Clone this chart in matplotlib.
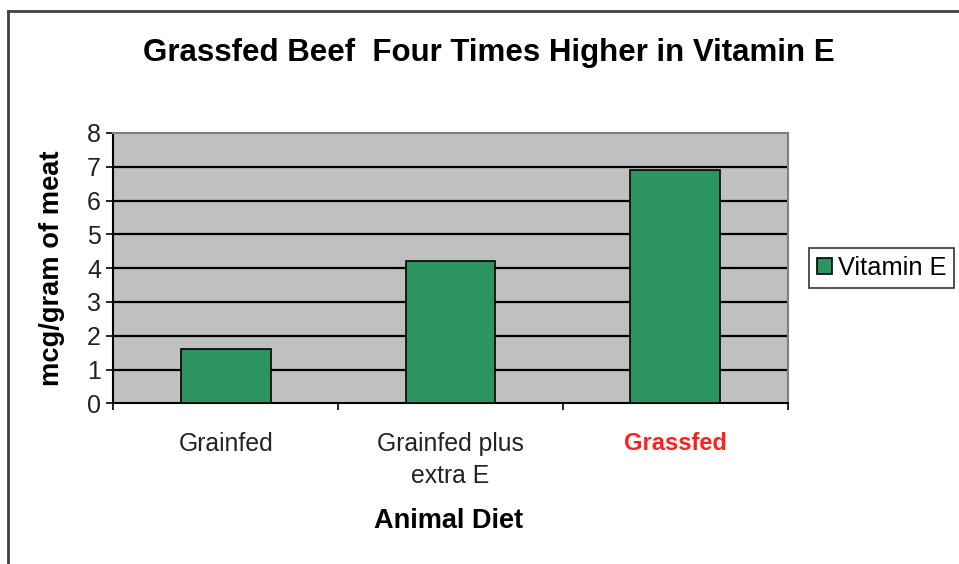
import matplotlib
matplotlib.use("Agg")
import matplotlib.pyplot as plt
from matplotlib.lines import Line2D

diets = ["Grainfed", "Grainfed plus\nextra E", "Grassfed"]
vitamin_e = [1.6, 4.2, 6.9]
yticks = [0, 1, 2, 3, 4, 5, 6, 7, 8]

W, H = 959, 564
plt.rcParams['font.family'] = ['Liberation Sans', 'DejaVu Sans']

fig = plt.figure(figsize=(W / 100, H / 100), dpi=100)
ax = fig.add_axes([113.4 / W, 1 - 403.3 / H, (787.6 - 113.4) / W, (403.3 - 133) / H])
ax.set_facecolor('#c0c0c0')

pos = [i + 0.5 for i in range(len(diets))]
ax.bar(pos, vitamin_e, width=0.4, color='#2b9461', edgecolor='black', linewidth=1.2,
       label='Vitamin E', zorder=3)

ax.set_xlim(0, 3)
ax.set_ylim(0, 8)
ax.set_yticks(yticks)
ax.set_yticklabels([str(v) for v in yticks])
for v in yticks[1:-1]:
    ax.axhline(v, color='black', lw=1.6, zorder=1)

ax.set_xticks([0, 1, 2, 3])
ax.set_xticklabels([])
ax.set_xticks(pos, minor=True)
ax.set_xticklabels(diets, minor=True, fontsize=17.8, color='#222222', linespacing=1.4)
ax.tick_params(axis='x', which='minor', length=0, pad=21)
ax.tick_params(axis='x', which='major', direction='out', length=5, width=1.2)
ax.tick_params(axis='y', direction='out', length=5, width=1.2, labelsize=18, pad=4,
               labelcolor='#222222')
lab = ax.get_xticklabels(minor=True)[2]
lab.set_color('#ff2020')
lab.set_fontweight('bold')
lab.set_fontsize(17)

for s in ['top', 'right']:
    ax.spines[s].set_color('#808080')
    ax.spines[s].set_linewidth(1.5)
for s in ['left', 'bottom']:
    ax.spines[s].set_color('black')
    ax.spines[s].set_linewidth(1.5)

fig.text(489 / W, 1 - 53 / H, 'Grassfed Beef  Four Times Higher in Vitamin E',
         ha='center', va='center', fontsize=22.5, fontweight='bold')
fig.text(52 / W, 1 - 268 / H, 'mcg/gram of meat', rotation=90, ha='center', va='center',
         fontsize=19.6, fontweight='bold')
fig.text(449 / W, 1 - 521 / H, 'Animal Diet', ha='center', va='center',
         fontsize=19.5, fontweight='bold')

leg = fig.legend(loc='center left', bbox_to_anchor=(809 / W, 1 - 268 / H), fontsize=18.3,
                 fancybox=False, edgecolor='black', handlelength=0.6, handleheight=0.6,
                 handletextpad=0.25, borderpad=0.3, borderaxespad=0)
leg.get_frame().set_linewidth(1.2)

fig.add_artist(Line2D([7.5 / W, 7.5 / W], [0, 1 - 11 / H], color='#404040', lw=2))
fig.add_artist(Line2D([7.5 / W, 1], [1 - 11 / H, 1 - 11 / H], color='#404040', lw=2))

fig.savefig('out.png', dpi=100)
